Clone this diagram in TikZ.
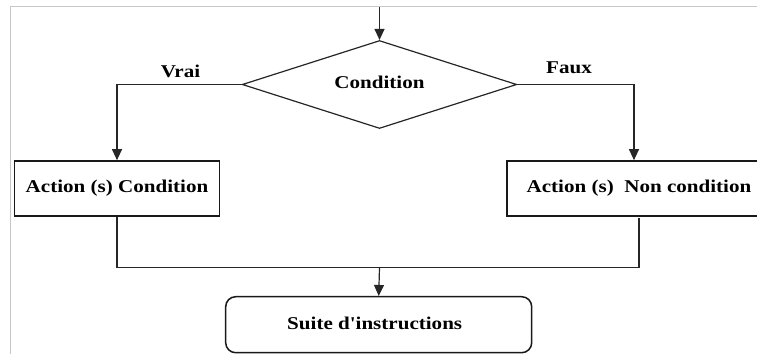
\documentclass[tikz,border=0pt]{standalone}
\usepackage{fontspec}
\setmainfont{Liberation Serif}
\usetikzlibrary{shapes.geometric,arrows.meta}
% wide bold label text
\newcommand{\lbl}[1]{\scalebox{1.17}[1]{\fontsize{18}{20}\selectfont\bfseries #1}}
\begin{document}
\begin{tikzpicture}[x=1pt,y=-1pt,
  link/.style={line width=1.2pt,black!85},
  arr/.style={link,-{Triangle[length=11pt,width=10pt]}},
  boxstyle/.style={draw=black!90,line width=1.7pt,minimum height=55pt,inner sep=0pt},
  test/.style={diamond,aspect=3.12,draw=black!85,line width=1.2pt,minimum width=274.5pt,minimum height=88pt,inner sep=0pt},
  frame/.style={draw=black!22,line width=1pt}]
\useasboundingbox (0,0) rectangle (757,354);
\fill[white] (0,0) rectangle (757,354);
% frame edges
\draw[frame] (10,354) -- (10,6) -- (757,6);

% nodes
\coordinate (start) at (379.5,7);
\node[test] (cond) at (379.5,84.5) {\raisebox{4pt}{\lbl{Condition}}};
\node[boxstyle,minimum width=205pt] (act) at (117,188.5) {\lbl{Action (s) Condition}};
\node[boxstyle,minimum width=254pt] (nact) at (634,188.5) {\raisebox{3pt}{\hspace*{10pt}\lbl{Action (s)\ \ Non condition}}};
\node[draw=black!90,line width=1.5pt,rounded corners=10pt,minimum width=306pt,minimum height=56pt,inner sep=0pt] (suite) at (378.7,324.7) {\hspace*{-8pt}\raisebox{2pt}{\lbl{Suite d\textquotesingle instructions}}};
\coordinate (join) at (379.5,267.5);

% branch labels
\node (vrai) at (180.5,71) {\lbl{Vrai}};
\node (faux) at (569,68) {\lbl{Faux}};

% connectors
\draw[arr] (start) -- (cond.north);
\draw[arr] (cond.west) -| (act.north);
\draw[arr] (cond.east) -| (nact.north);
\draw[link] (act.south) |- (join);
\draw[link] ([xshift=5pt,yshift=-1pt]nact.south) |- (join);
\draw[arr] (join) -- (suite.north);
\end{tikzpicture}
\end{document}
